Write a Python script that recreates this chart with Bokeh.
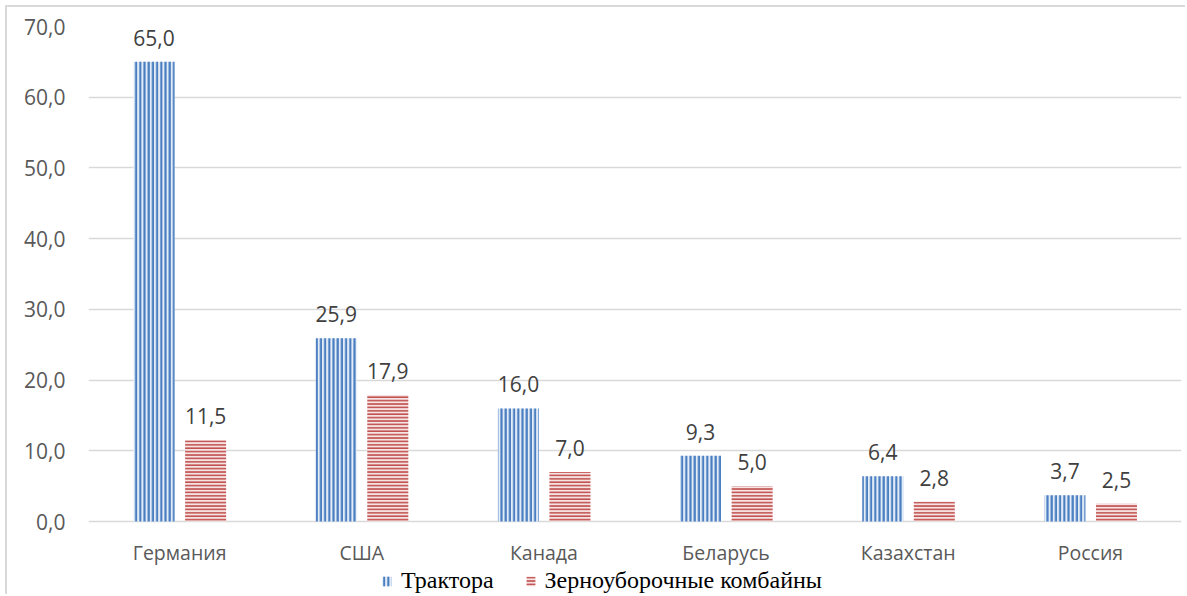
from bokeh.plotting import figure
from bokeh.models import (ColumnDataSource, FactorRange, Range1d, FixedTicker,
                          CustomJSTickFormatter, Legend, LegendItem)
from bokeh.transform import dodge
from bokeh.core.properties import value
from bokeh.embed import file_html
from bokeh.resources import INLINE

countries = ["Германия", "США", "Канада", "Беларусь", "Казахстан", "Россия"]
tractors = [65.0, 25.9, 16.0, 9.3, 6.4, 3.7]
combines = [11.5, 17.9, 7.0, 5.0, 2.8, 2.5]
series_names = ["Трактора", "Зерноуборочные комбайны"]
y_ticks = [0, 10, 20, 30, 40, 50, 60, 70]


def fmt(v):
    return f"{v:.1f}".replace(".", ",")


src = ColumnDataSource(dict(
    country=countries,
    zero=[0] * len(countries),
    tractors=tractors,
    combines=combines,
    t_lbl=[fmt(v) for v in tractors],
    c_lbl=[fmt(v) for v in combines],
))

# the frame runs down to the bottom edge so the legend can sit under the category names
p = figure(
    x_range=FactorRange(*countries, range_padding=0),
    y_range=Range1d(-10.6, 70),
    width=1180, height=589,
    output_backend="svg", toolbar_location=None,
    min_border_left=81, min_border_right=6,
    min_border_top=19, min_border_bottom=0,
)
p.styles = {"margin-left": "5px", "margin-top": "5px",
            "border-left": "2px solid #d9d9d9", "border-top": "2px solid #d9d9d9"}
p.outline_line_color = None
p.background_fill_color = "white"

TRACTOR_BLUE = "#4a7fc1"
COMBINE_RED = "#c0504d"

r_t = p.vbar(x=dodge("country", -0.14, range=p.x_range), top="tractors", bottom=0, width=0.225,
             source=src, fill_color="#e4ecf7", line_color=None,
             hatch_pattern="|", hatch_color=TRACTOR_BLUE, hatch_scale=4.2, hatch_weight=2.2)
r_c = p.vbar(x=dodge("country", 0.143, range=p.x_range), top="combines", bottom=0, width=0.225,
             source=src, fill_color="#f6e3e3", line_color=None,
             hatch_pattern="-", hatch_color=COMBINE_RED, hatch_scale=3.4, hatch_weight=1.7)

label_kw = dict(text_font=value("Open Sans"), text_font_size="21px", text_color="#404040",
                text_align="center", text_baseline="bottom", y_offset=-16)
p.text(x=dodge("country", -0.14, range=p.x_range), y="tractors", text="t_lbl", source=src, **label_kw)
p.text(x=dodge("country", 0.143, range=p.x_range), y="combines", text="c_lbl", source=src, **label_kw)

# category names under the zero line
p.text(x="country", y="zero", text="country", source=src,
       text_font=value("Open Sans"), text_font_size="19.5px", text_color="#595959",
       text_align="center", text_baseline="middle", y_offset=31)

# axes
p.xaxis.visible = False
p.xgrid.grid_line_color = None
p.ygrid.ticker = FixedTicker(ticks=y_ticks)
p.ygrid.grid_line_color = "#d9d9d9"
p.ygrid.grid_line_width = 1.3
p.yaxis.ticker = FixedTicker(ticks=y_ticks)
p.yaxis.formatter = CustomJSTickFormatter(code="return tick.toFixed(1).replace('.', ',');")
p.yaxis.axis_line_color = None
p.yaxis.major_tick_line_color = None
p.yaxis.minor_tick_line_color = None
p.yaxis.major_label_text_font = "Open Sans"
p.yaxis.major_label_text_font_size = "21px"
p.yaxis.major_label_text_color = "#595959"
p.yaxis.major_label_standoff = 17

legend = Legend(
    items=[LegendItem(label=series_names[0], renderers=[r_t]),
           LegendItem(label=series_names[1], renderers=[r_c])],
    orientation="horizontal", location=(293, 2),
    label_text_font="Liberation Serif", label_text_font_size="24px",
    label_text_color="#000000", glyph_width=11, glyph_height=12,
    label_standoff=9, spacing=31, padding=0, margin=0,
    border_line_color=None, background_fill_alpha=0,
)
p.add_layout(legend, "center")

open("out.html", "w").write(file_html(p, INLINE))
